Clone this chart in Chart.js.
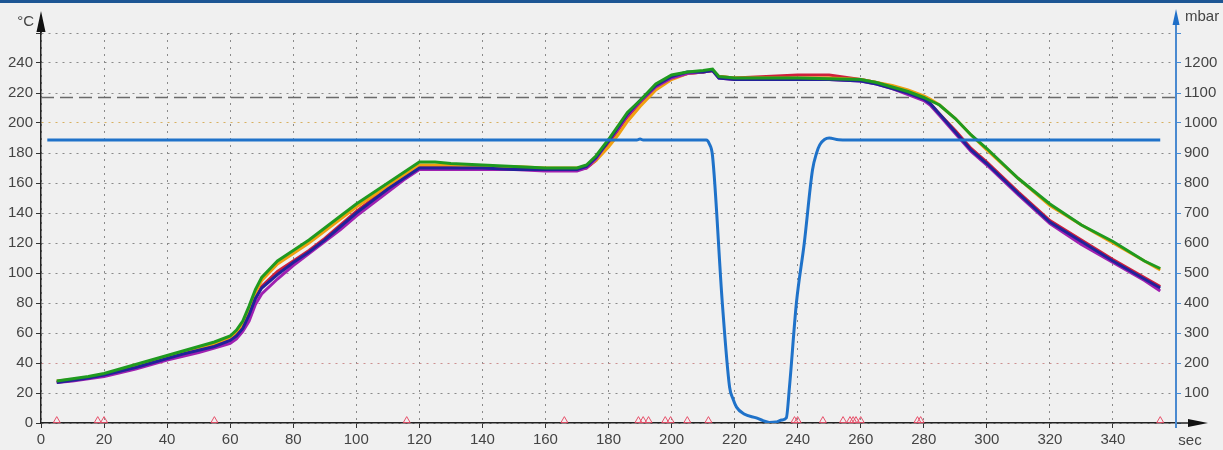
<!DOCTYPE html>
<html>
<head>
<meta charset="utf-8">
<script src="https://cdn.jsdelivr.net/npm/chart.js@4.4.0/dist/chart.umd.min.js"></script>
<style>
html, body { margin: 0; padding: 0; background: #f0f0f0; }
#wrap { width: 1223px; height: 450px; }
</style>
</head>
<body>
<div id="wrap"><canvas id="profileChart" width="1223" height="450"></canvas></div>
<script>
// time base (sec) shared by the five temperature probes
const timeSec = [5,10,15,20,25,30,35,40,45,50,55,60,62,64,66,68,70,75,80,85,90,95,100,105,110,115,120,125,130,140,150,160,170,173,176,180,183,186,190,195,200,205,210,213,215,220,230,240,250,260,265,270,275,280,282,285,290,295,300,310,320,330,340,350,355];

// temperature probes (°C)
const tempGreen = [28,29.5,31,33,36,39,42,45,48,51,54,58,62,68,78,89,97,108,115,122,130,138,146,153,160,167,174,174,173,172,171,170,170,172,178,189,198,207,215,226,232,234,235,236,231,230,230,230,229.5,229,227,224,221,217,215,212,203,192,183,163,146,132,121,108,103];
const tempOrange = [28,29,30.5,32.5,35,38,41,44,47,50,53,57,61,66,76,87,95,106,113,120,128,136,144,151,158,165,172,172,172,171,171,170,170,171,175,184,192,201,211,222,229,233,234,235,231,230,230,230,230,229,227,225,222,218,216,212,203,192,182,163,145,132,120,108,102];
const tempRed = [27.5,28.5,30,32,34.5,37,40,43,46,49,52,55,59,64,73,83,91,101,108,115,123,132,141,149,157,164,171,171,171,170,170,169,169,170,175,186,195,204,213,224,230,233,234,235,231,230,231,232,232,229,227,224,220,216,213,206,195,183,174,154,135,122,109,97,91];
const tempBlue = [27,28.5,30,32,34.5,37,40,43,46,48.5,51,55,58,63,72,83,90,99,107,114,122,131,140,148,156,163,170,170,170,170,169,169,169,171,177,188,197,206,215,225,231,234,234,235,230,229,229,229,229,228,226,223,220,216,213,206,194,182,173,153,134,121,108,96,90];
const tempPurple = [27,28,29.5,31,33.5,36,39,42,44.5,47,50,53,56,61,68,79,86,96,105,113,121,129,138,146,154,162,169,169,169,169,169,168,168,170,176,188,196,205,214,224,230,233,234,235,230,229,229,229,229,228,226,223,219,215,212,205,193,181,172,152,133,119,107,95,88];

// chamber pressure (mbar)
const pressTime = [2,100,189,190,191,205,211,212,213,216.1,218.4,219.5,220.6,223,226.9,229,231,233,235,236.4,237.4,239.6,242.1,244.7,246,247,248.5,250,253,260,355];
const pressMbar = [943,943,943,947,943,943,943,930,890,400,120,80,53,30,17,8,2,3,10,17,120,400,600,843,900,927,945,950,944,943,943];

// event markers along the time axis (sec)
const eventSec = [5,18,20,55,116,166,189.5,191,192.7,198,199.7,205,211.7,239,240,248,254.4,256.6,257.6,258.5,260,278,279,355];

// limit line (°C)
const limitTemp = 217;

const pts = (xs, ys) => xs.map((x, i) => ({ x: x, y: ys[i] }));

const frame = {
  id: 'frame',
  beforeDraw(chart) {
    const c = chart.ctx;
    c.save();
    c.fillStyle = '#f0f0f0';
    c.fillRect(0, 0, chart.width, chart.height);
    c.fillStyle = '#1d5694';
    c.fillRect(0, 0, chart.width, 3);
    c.restore();
  },
  afterDraw(chart) {
    const c = chart.ctx, a = chart.chartArea;
    c.save();
    // left axis arrow
    c.strokeStyle = '#222';
    c.lineWidth = 1.5;
    c.beginPath(); c.moveTo(a.left, a.top); c.lineTo(a.left, 22); c.stroke();
    c.fillStyle = '#111';
    c.beginPath(); c.moveTo(a.left, 11); c.lineTo(a.left - 4.5, 32); c.lineTo(a.left + 4.5, 32); c.closePath(); c.fill();
    // bottom axis arrow
    c.beginPath(); c.moveTo(a.right, a.bottom); c.lineTo(1196, a.bottom); c.stroke();
    c.beginPath(); c.moveTo(1208, a.bottom); c.lineTo(1188, a.bottom - 4); c.lineTo(1188, a.bottom + 4); c.closePath(); c.fill();
    // right axis arrow
    c.strokeStyle = '#4a8ad0';
    c.lineWidth = 2;
    c.beginPath(); c.moveTo(a.right, a.bottom + 5); c.lineTo(a.right, 20); c.stroke();
    c.fillStyle = '#1f6fc8';
    c.beginPath(); c.moveTo(a.right, 9); c.lineTo(a.right - 3.5, 25); c.lineTo(a.right + 3.5, 25); c.closePath(); c.fill();
    // unit labels
    c.font = '15px "Liberation Sans"';
    c.fillStyle = '#444';
    c.textBaseline = 'middle';
    c.textAlign = 'right';
    c.fillText('°C', 34, 22);
    c.textAlign = 'left';
    c.fillText('mbar', 1185, 17);
    c.textAlign = 'center';
    c.fillText('sec', 1190, 441);
    c.restore();
  }
};

const tickFont = { family: 'Liberation Sans', size: 15 };

const tempLine = (label, color, values) => ({
  label: label,
  data: pts(timeSec, values),
  borderColor: color,
  borderWidth: 3,
  pointRadius: 0,
  tension: 0,
  yAxisID: 'y'
});

const ctx = document.getElementById('profileChart').getContext('2d');
new Chart(ctx, {
  type: 'line',
  data: {
    datasets: [
      {
        label: 'events',
        type: 'scatter',
        data: eventSec.map(t => ({ x: t, y: 1.6 })),
        pointStyle: 'triangle',
        pointRadius: 4,
        borderColor: '#e8506a',
        backgroundColor: 'rgba(0,0,0,0)',
        borderWidth: 1,
        showLine: false,
        clip: false,
        yAxisID: 'y'
      },
      {
        label: 'Pressure',
        data: pts(pressTime, pressMbar),
        borderColor: '#1f72c9',
        borderWidth: 3,
        pointRadius: 0,
        cubicInterpolationMode: 'monotone',
        yAxisID: 'y1'
      },
      tempLine('TC3', '#1f9a1f', tempGreen),
      tempLine('TC4', '#22229a', tempBlue),
      tempLine('TC5', '#a020b0', tempPurple),
      tempLine('TC2', '#f0a010', tempOrange),
      tempLine('TC1', '#d0203c', tempRed),
      {
        label: 'limit',
        data: [{ x: 0, y: limitTemp }, { x: 360, y: limitTemp }],
        borderColor: '#6a6a6a',
        borderWidth: 1.6,
        borderDash: [13, 6],
        pointRadius: 0,
        yAxisID: 'y'
      }
    ]
  },
  options: {
    responsive: false,
    animation: false,
    layout: { padding: { top: 33, left: 0, right: 0, bottom: 0 } },
    plugins: {
      legend: { display: false },
      tooltip: { enabled: false }
    },
    scales: {
      x: {
        type: 'linear',
        min: 0,
        max: 360,
        afterFit: s => { s.height = 27; },
        ticks: {
          stepSize: 20,
          padding: 3,
          color: '#444',
          font: tickFont,
          maxRotation: 0,
          callback: v => (v === 360 ? '' : v)
        },
        grid: { color: '#8a8a8a', tickLength: 5, tickColor: '#333' },
        border: { color: '#222', width: 1.5, dash: [2, 5] }
      },
      y: {
        position: 'left',
        min: 0,
        max: 260,
        afterFit: s => { s.width = 41; },
        ticks: {
          stepSize: 20,
          padding: 3,
          color: '#444',
          font: tickFont,
          callback: v => (v === 260 ? '' : v)
        },
        grid: {
          color: c => (c.tick && c.tick.value === 200 ? '#d8b060' : (c.tick && c.tick.value === 40 ? '#cc9090' : '#8a8a8a')),
          tickLength: 5,
          tickColor: '#333'
        },
        border: { color: '#222', width: 1.5, dash: [2, 5] }
      },
      y1: {
        position: 'right',
        min: 0,
        max: 1300,
        afterFit: s => { s.width = 47; },
        ticks: {
          stepSize: 100,
          padding: 3,
          color: '#444',
          font: tickFont,
          callback: v => (v === 0 || v === 1300 ? '' : v)
        },
        grid: { drawOnChartArea: false, tickLength: 5, tickColor: '#4a8ad0' },
        border: { color: '#4a8ad0', width: 2 }
      }
    }
  },
  plugins: [frame]
});
</script>
</body>
</html>
